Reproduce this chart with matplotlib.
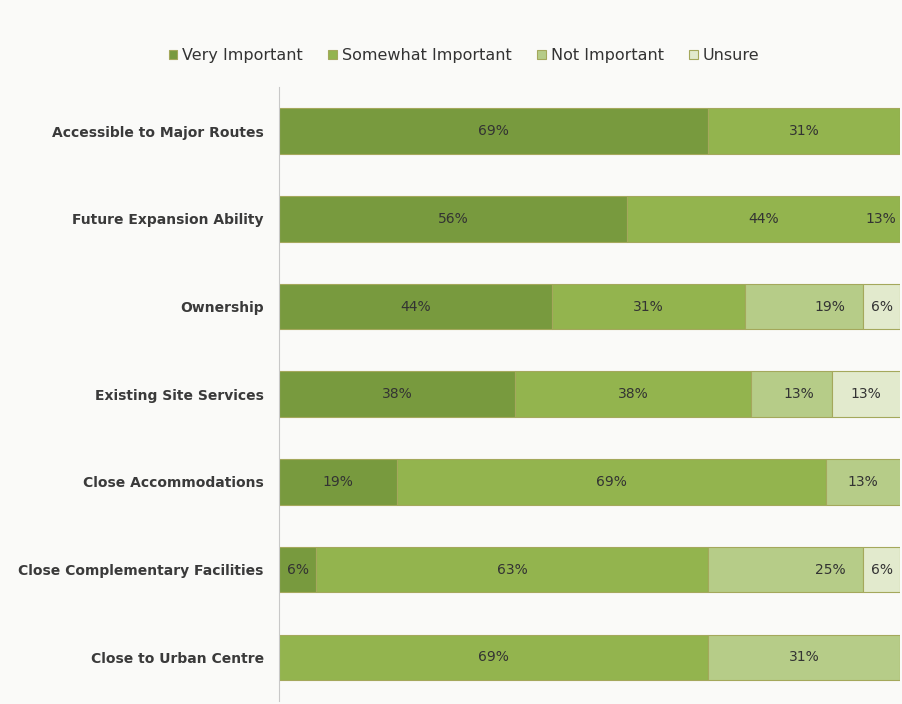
import matplotlib.pyplot as plt
import numpy as np

# Survey answers, top row first
factors = ["Accessible to Major Routes", "Future Expansion Ability", "Ownership",
           "Existing Site Services", "Close Accommodations",
           "Close Complementary Facilities", "Close to Urban Centre"]
very_important = [69, 56, 44, 38, 19, 6, 0]
somewhat_important = [31, 44, 31, 38, 69, 63, 69]
not_important = [0, 13, 19, 13, 13, 25, 31]
unsure = [0, 0, 6, 13, 0, 6, 0]

series_names = ["Very Important", "Somewhat Important", "Not Important", "Unsure"]
colors = ["#789a3e", "#93b44e", "#b6cc88", "#e2eacd"]

fig = plt.figure(figsize=(9.03, 7.04), dpi=100)
fig.patch.set_facecolor("#fafaf8")
ax = fig.add_axes([0.309, 0.004, 0.688, 0.872])
ax.set_facecolor("#fafaf8")

y = np.arange(len(factors))
series = [very_important, somewhat_important, not_important, unsure]
left = np.zeros(len(factors))
bars = []
for name, vals, col in zip(series_names, series, colors):
    vals = np.array(vals, dtype=float)
    ax.barh(y, vals, left=left, height=0.52, color=col, edgecolor="#a4a85c",
            linewidth=0.8, label=name)
    bars.append((vals, left.copy()))
    left += vals

# value labels
for k, (vals, lefts) in enumerate(bars):
    for i in range(len(factors)):
        v = vals[i]
        if v <= 0:
            continue
        start = lefts[i]
        end = start + v
        if start >= 100:
            # segment pushed past the axis end, label it at the edge
            ax.text(99.3, y[i], f"{v:.0f}%", ha="right", va="center",
                    fontsize=10, color="#333333")
            continue
        followed = k < 3 and any(s[0][i] > 0 for s in bars[k + 1:])
        if k == 2 and followed:
            ax.text(end - 2.8, y[i], f"{v:.0f}%", ha="right", va="center",
                    fontsize=10, color="#333333")
        else:
            ax.text((start + min(end, 100)) / 2, y[i], f"{v:.0f}%", ha="center",
                    va="center", fontsize=10, color="#333333")

ax.set_xlim(0, 100)
ax.set_ylim(len(factors) - 0.5, -0.5)
ax.set_yticks(y)
ax.set_yticklabels(factors, fontsize=10, fontweight="bold", color="#3a3a3a")
ax.tick_params(axis="y", length=0, pad=11)
ax.set_xticks([])
for s in ["top", "right", "bottom"]:
    ax.spines[s].set_visible(False)
ax.spines["left"].set_color("#c8c8c8")

handles, labels = ax.get_legend_handles_labels()
fig.legend(handles, labels, loc="center", bbox_to_anchor=(0.514, 0.921), ncol=4,
           frameon=False, fontsize=11.5, handlelength=0.55, handleheight=0.55,
           handletextpad=0.3, columnspacing=1.6, labelcolor="#333333")

fig.savefig("out.png", dpi=100, facecolor=fig.get_facecolor())
